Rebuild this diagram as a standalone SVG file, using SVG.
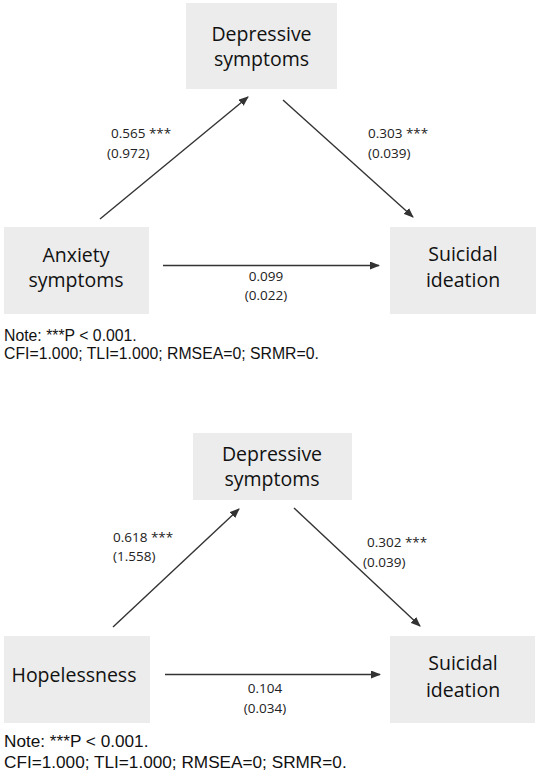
<svg xmlns="http://www.w3.org/2000/svg" width="540" height="777" viewBox="0 0 540 777">
<style>
.box{fill:#ececec;}
.nt{font-family:"Open Sans","Noto Sans",sans-serif;font-size:19.5px;fill:#111;text-anchor:middle;}
.lb{font-family:"Open Sans","Noto Sans",sans-serif;font-size:13.5px;fill:#222;}
.lbm{font-family:"Open Sans","Noto Sans",sans-serif;font-size:13.5px;fill:#222;text-anchor:middle;}
.note{font-family:"Liberation Sans",Arial,sans-serif;font-size:15.8px;fill:#111;}
.note2{font-family:"Liberation Sans",Arial,sans-serif;font-size:17.2px;fill:#111;}
.ar{stroke:#333;stroke-width:1.4;fill:none;marker-end:url(#ah);}
</style>
<defs>
<marker id="ah" viewBox="0 0 10 8" refX="9" refY="4" markerWidth="10" markerHeight="8" markerUnits="userSpaceOnUse" orient="auto">
<path d="M0,0 L10,4 L0,8 z" fill="#333"/>
</marker>
</defs>
<rect width="540" height="777" fill="#fff"/>

<g id="top-depressive">
<rect class="box" x="186" y="3" width="151" height="86"/>
<text class="nt" x="261.5" y="40.5">Depressive</text>
<text class="nt" x="261.5" y="65.5">symptoms</text>
</g>
<g id="top-anxiety">
<rect class="box" x="4" y="227" width="145" height="87"/>
<text class="nt" x="76" y="261.5">Anxiety</text>
<text class="nt" x="76" y="287">symptoms</text>
</g>
<g id="top-suicidal">
<rect class="box" x="390" y="227" width="146" height="87"/>
<text class="nt" x="463" y="260.5">Suicidal</text>
<text class="nt" x="463" y="287">ideation</text>
</g>
<g id="top-connectors">
<line class="ar" x1="100" y1="219" x2="248" y2="97"/>
<line class="ar" x1="283" y1="100" x2="413" y2="217"/>
<line class="ar" x1="163" y1="265.5" x2="379" y2="265.5"/>
<text class="lb" x="111" y="138">0.565 ***</text>
<text class="lb" x="107" y="157.5">(0.972)</text>
<text class="lb" x="368" y="138">0.303 ***</text>
<text class="lb" x="368" y="157.5">(0.039)</text>
<text class="lbm" x="266" y="281">0.099</text>
<text class="lbm" x="266" y="300">(0.022)</text>
</g>
<g id="top-note">
<text class="note" x="4" y="341">Note: ***P &lt; 0.001.</text>
<text class="note" x="4" y="359">CFI=1.000; TLI=1.000; RMSEA=0; SRMR=0.</text>
</g>

<g id="bot-depressive">
<rect class="box" x="193" y="433" width="159" height="67"/>
<text class="nt" x="272" y="460.5">Depressive</text>
<text class="nt" x="272" y="485.5">symptoms</text>
</g>
<g id="bot-hopelessness">
<rect class="box" x="4" y="636" width="146" height="87"/>
<text class="nt" x="74" y="681.5">Hopelessness</text>
</g>
<g id="bot-suicidal">
<rect class="box" x="390" y="636" width="145" height="87"/>
<text class="nt" x="463" y="670">Suicidal</text>
<text class="nt" x="463" y="696.5">ideation</text>
</g>
<g id="bot-connectors">
<line class="ar" x1="113" y1="627" x2="239" y2="509"/>
<line class="ar" x1="294" y1="508" x2="420" y2="626"/>
<line class="ar" x1="165" y1="674.5" x2="380" y2="674.5"/>
<text class="lb" x="113" y="542">0.618 ***</text>
<text class="lb" x="113" y="561">(1.558)</text>
<text class="lb" x="367" y="547">0.302 ***</text>
<text class="lb" x="363" y="567">(0.039)</text>
<text class="lbm" x="265" y="693">0.104</text>
<text class="lbm" x="265" y="713">(0.034)</text>
</g>
<g id="bot-note">
<text class="note2" x="4" y="747">Note: ***P &lt; 0.001.</text>
<text class="note2" x="4" y="768">CFI=1.000; TLI=1.000; RMSEA=0; SRMR=0.</text>
</g>
</svg>
